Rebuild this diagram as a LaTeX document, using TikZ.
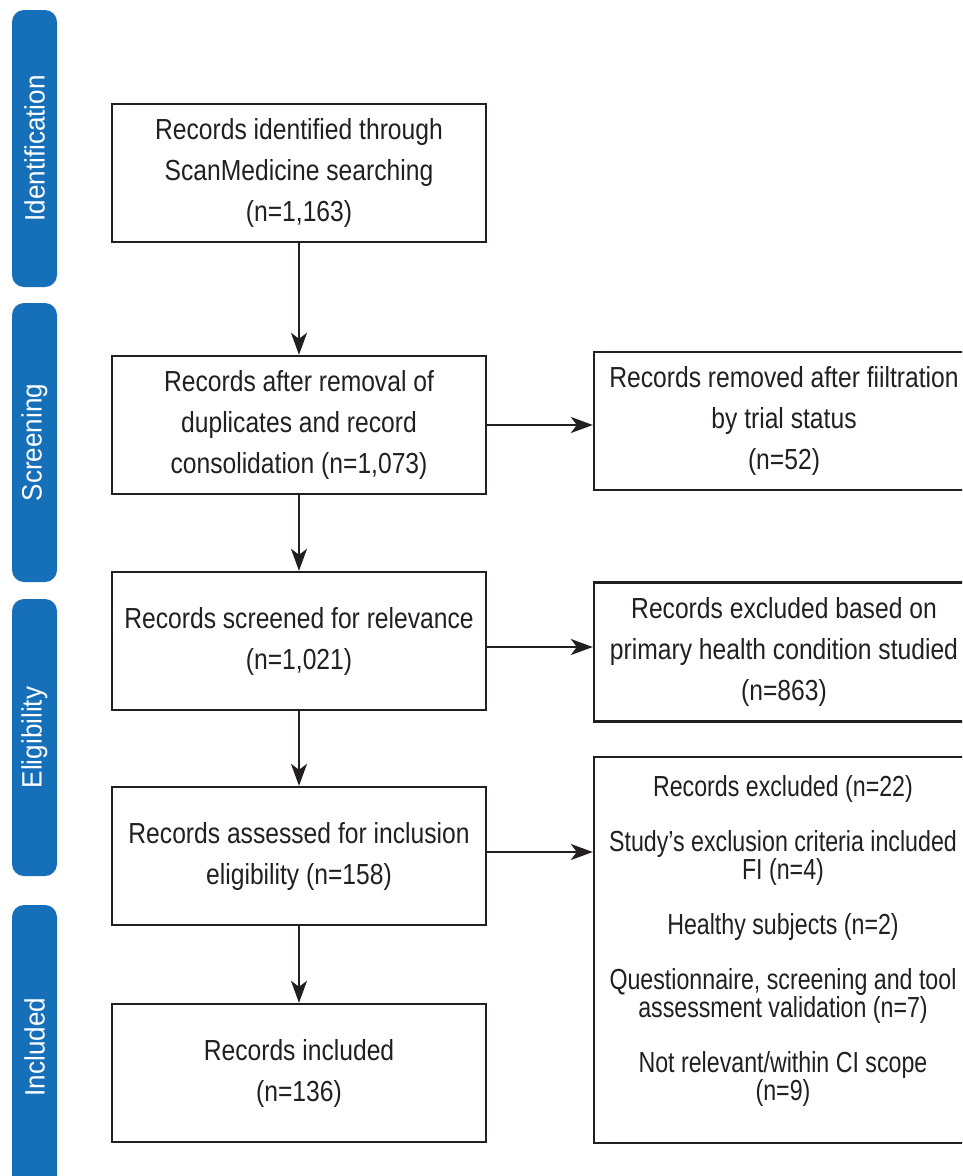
\documentclass[tikz,border=0pt]{standalone}
\usepackage{fontspec}
\setmainfont[FakeStretch=0.85]{Liberation Sans}
\newfontfamily\sidefont[FakeStretch=0.93]{Liberation Sans}
\newfontfamily\listfont[FakeStretch=0.8]{Liberation Sans}
\usetikzlibrary{arrows.meta}
\definecolor{barblue}{RGB}{21,112,185}
\definecolor{ink}{RGB}{35,31,32}
\begin{document}
\begin{tikzpicture}[x=1pt,y=-1pt,
  box/.style={draw=ink, line width=2.4pt, minimum width=374pt, minimum height=138pt, inner sep=0pt, align=center, font=\fontsize{29}{41}\selectfont, text=ink},
  rbox/.style={box, minimum width=380pt},
  bar/.style={fill=barblue, rounded corners=12pt, rotate=90, minimum height=45pt, inner sep=0pt, text=white, font=\sidefont\fontsize{28}{34}\selectfont},
  flow/.style={draw=ink, line width=2pt, -{Stealth[length=22pt,width=16pt,inset=6pt]}}
]
\useasboundingbox (0,0) rectangle (962,1176);
\clip (0,0) rectangle (962,1176);
\fill[white] (0,0) rectangle (962,1176);

% stage bars
\node[bar, minimum width=277pt] (sid) at (34.5,148.5) {Identification};
\node[bar, minimum width=279pt] (sscr) at (34.5,442.5) {Screening};
\node[bar, minimum width=277pt] (selig) at (34.5,737.5) {Eligibility};
\node[bar, minimum width=284pt] (sinc) at (34.5,1047) {Included};

% main column
\node[box] (b1) at (299,173) {Records identified through\\ScanMedicine searching\\(n=1,163)};
\node[box] (b2) at (299,425) {Records after removal of\\duplicates and record\\consolidation (n=1,073)};
\node[box] (b3) at (299,641) {Records screened for relevance\\(n=1,021)};
\node[box] (b4) at (299,856) {Records assessed for inclusion\\eligibility (n=158)};
\node[box] (b5) at (299,1073) {Records included\\(n=136)};

% right column
\node[rbox] (r1) at (784,421) {Records removed after fiiltration\\by trial status\\(n=52)};
\node[rbox, minimum height=139pt] (r2) at (784,652) {Records excluded based on\\primary health condition studied\\(n=863)};
\node[rbox, minimum height=386pt] (r3) at (784,950) {};
\node[align=center, text=ink, inner sep=0pt, font=\listfont\fontsize{29}{28}\selectfont] (r3t) at (783,941)
  {Records excluded (n=22)\\[27pt]
   Study’s exclusion criteria included\\FI (n=4)\\[27pt]
   Healthy subjects (n=2)\\[27pt]
   Questionnaire, screening and tool\\assessment validation (n=7)\\[27pt]
   Not relevant/within CI scope\\(n=9)};

% connectors
\draw[flow] (b1) -- (b2);
\draw[flow] (b2) -- (b3);
\draw[flow] (b3) -- (b4);
\draw[flow] (b4) -- (b5);
\draw[flow] (b2.east) -- (b2.east -| r1.west);
\draw[flow] ([yshift=-6pt]b3.east) -- ([yshift=-6pt]b3.east -| r2.west);
\draw[flow] ([yshift=4pt]b4.east) -- ([yshift=4pt]b4.east -| r3.west);
\end{tikzpicture}
\end{document}
